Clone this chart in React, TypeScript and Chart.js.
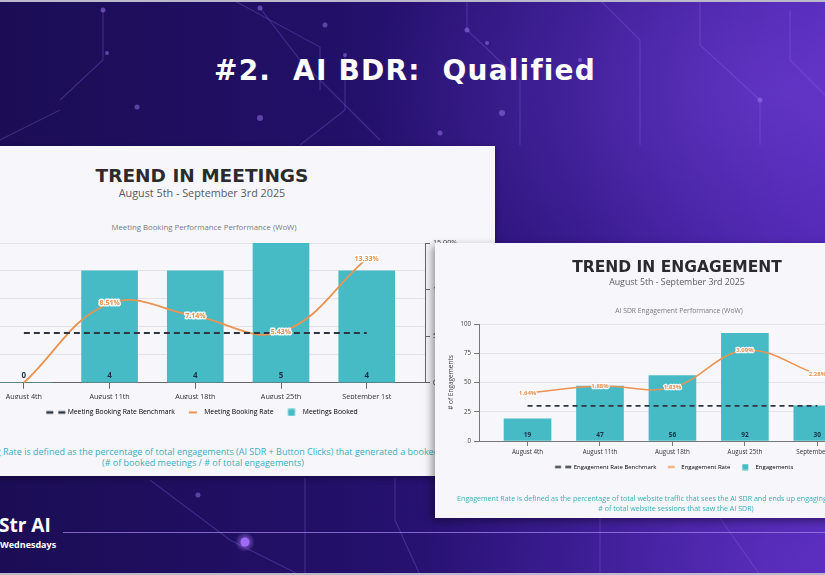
import React, { useEffect, useRef } from "react";
import { Chart, registerables } from "chart.js";

Chart.register(...registerables);

// ---------- data ----------
const weeks = ["August 4th", "August 11th", "August 18th", "August 25th", "September 1st"];

const meetingsBooked = [0, 4, 4, 5, 4];
const meetingRate = [0, 8.51, 7.14, 5.43, 13.33];
const meetingBenchmark = [5.35, 5.35, 5.35, 5.35, 5.35];
const meetingCountTicks = [0, 1, 2, 3, 4, 5];
const meetingRateTicks = [0, 5, 10, 15];

const engagements = [19, 47, 56, 92, 30];
const engagementRate = [1.64, 1.88, 1.83, 3.09, 2.28];
const engagementBenchmark = [1.2, 1.2, 1.2, 1.2, 1.2];
const engagementTicks = [0, 25, 50, 75, 100];

// ---------- styles ----------
const TEAL = "#46bbc6";
const ORANGE = "#eb9350";
const BENCH = "#2f3541";
const FONT = "'Open Sans', 'Liberation Sans', sans-serif";
const HEAD = "'DejaVu Sans', 'Open Sans', sans-serif";

const pts = (arr: number[]) => arr.map((v, i) => ({ x: i, y: v }));

function legendIcon(kind: "dash" | "line" | "box", color: string, scale = 1) {
  const c = document.createElement("canvas");
  c.width = Math.round(22 * scale);
  c.height = Math.round(8 * scale);
  const g = c.getContext("2d")!;
  g.fillStyle = color;
  const cy = c.height / 2;
  if (kind === "dash") {
    g.fillRect(1 * scale, cy - 1.3 * scale, 7 * scale, 2.6 * scale);
    g.fillRect(13 * scale, cy - 1.3 * scale, 7 * scale, 2.6 * scale);
  } else if (kind === "line") {
    g.fillRect(7 * scale, cy - 1 * scale, 8 * scale, 2 * scale);
  } else {
    g.fillRect(7.5 * scale, cy - 3.5 * scale, 7 * scale, 7 * scale);
  }
  return c;
}

const valueLabels = {
  id: "valueLabels",
  afterDatasetsDraw(chart: any) {
    const ctx = chart.ctx;
    chart.data.datasets.forEach((ds: any, i: number) => {
      const cfg = ds.valueLabel;
      if (!cfg) return;
      const meta = chart.getDatasetMeta(i);
      ctx.save();
      ctx.font = cfg.font;
      ctx.textAlign = "center";
      ctx.textBaseline = "middle";
      meta.data.forEach((el: any, j: number) => {
        const raw = ds.data[j];
        const v = typeof raw === "object" ? raw.y : raw;
        if (cfg.skipZero && v === 0) return;
        const text = cfg.format(v);
        const x = el.x;
        const y = cfg.atBase ? el.base - cfg.offset : el.y;
        if (cfg.halo) {
          ctx.lineJoin = "round";
          ctx.lineWidth = cfg.haloWidth;
          ctx.strokeStyle = cfg.halo;
          ctx.strokeText(text, x, y);
        }
        ctx.fillStyle = cfg.color;
        ctx.fillText(text, x, y);
      });
      ctx.restore();
    });
  },
};

const genLabels = (chart: any) =>
  chart.data.datasets.map((ds: any, i: number) => ({
    text: ds.label,
    pointStyle: ds.legendIcon,
    fillStyle: "transparent",
    strokeStyle: "transparent",
    lineWidth: 0,
    hidden: false,
    datasetIndex: i,
  }));

function meetingsChart(canvas: HTMLCanvasElement) {
  const f = (size: number, weight: any = "normal") => ({ family: FONT, size, weight });
  return new Chart(canvas, {
    type: "bar",
    data: {
      datasets: [
        {
          type: "line",
          label: "Meeting Booking Rate Benchmark",
          data: pts(meetingBenchmark),
          yAxisID: "y1",
          borderColor: BENCH,
          borderDash: [6, 4],
          borderWidth: 2,
          pointRadius: 0,
          order: 0,
          legendIcon: legendIcon("dash", BENCH),
        } as any,
        {
          type: "line",
          label: "Meeting Booking Rate",
          data: pts(meetingRate),
          yAxisID: "y1",
          borderColor: ORANGE,
          borderWidth: 1.8,
          tension: 0.4,
          pointRadius: 0,
          order: 1,
          legendIcon: legendIcon("line", ORANGE),
          valueLabel: {
            font: `bold 7px ${FONT}`,
            color: ORANGE,
            halo: "rgba(255,255,255,0.9)",
            haloWidth: 3,
            skipZero: true,
            format: (v: number) => v.toFixed(2) + "%",
          },
        },
        {
          type: "bar",
          label: "Meetings Booked",
          data: pts(meetingsBooked),
          yAxisID: "y",
          backgroundColor: TEAL,
          barThickness: 56,
          order: 2,
          legendIcon: legendIcon("box", TEAL),
          valueLabel: {
            font: `bold 8px ${FONT}`,
            color: "#1d3146",
            atBase: true,
            offset: 7,
            format: (v: number) => String(v),
          },
        },
      ],
    } as any,
    options: {
      responsive: false,
      animation: false,
      layout: { padding: { top: 10, left: 0, right: 0, bottom: 0 } },
      plugins: {
        legend: {
          position: "bottom",
          fullSize: false,
          maxHeight: 22,
          labels: {
            usePointStyle: true,
            pointStyleWidth: 16,
            boxHeight: 7,
            padding: 10,
            color: "#333",
            font: f(6.8),
            generateLabels: genLabels,
          },
        },
        tooltip: { enabled: false },
      },
      scales: {
        x: {
          type: "linear",
          offset: false,
          min: -0.5,
          max: 4.68,
          afterBuildTicks: (s: any) => {
            s.ticks = weeks.map((_, i) => ({ value: i }));
          },
          afterFit: (s: any) => {
            s.height = 16.25;
          },
          ticks: {
            callback: (v: any) => weeks[v] ?? "",
            color: "#333",
            font: f(7.2),
            padding: 4,
            maxRotation: 0,
            autoSkip: false,
          },
          grid: { offset: false, drawOnChartArea: false, drawTicks: true, tickLength: 6, color: "#666" },
          border: { color: "#666" },
        },
        y: {
          position: "left",
          min: 0,
          max: 5,
          afterBuildTicks: (s: any) => {
            s.ticks = meetingCountTicks.map((v) => ({ value: v }));
          },
          afterFit: (s: any) => {
            s.width = 0;
          },
          ticks: { display: false },
          grid: { color: "#e2e2ea", drawTicks: false },
          border: { display: false },
        },
        y1: {
          position: "right",
          min: 0,
          max: 15,
          afterBuildTicks: (s: any) => {
            s.ticks = meetingRateTicks.map((v) => ({ value: v }));
          },
          afterFit: (s: any) => {
            s.width = 60;
          },
          ticks: {
            callback: (v: any) => Number(v).toFixed(2) + "%",
            color: "#444",
            font: f(7.2),
            padding: 3,
          },
          grid: { drawOnChartArea: false, tickLength: 5, color: "#666" },
          border: { color: "#666" },
        },
      },
    } as any,
    plugins: [valueLabels],
  });
}

function engagementChart(canvas: HTMLCanvasElement) {
  const f = (size: number, weight: any = "normal") => ({ family: FONT, size, weight });
  return new Chart(canvas, {
    type: "bar",
    data: {
      datasets: [
        {
          type: "line",
          label: "Engagement Rate Benchmark",
          data: pts(engagementBenchmark),
          yAxisID: "y1",
          borderColor: BENCH,
          borderDash: [5, 4],
          borderWidth: 1.8,
          pointRadius: 0,
          order: 0,
          legendIcon: legendIcon("dash", BENCH, 0.85),
        } as any,
        {
          type: "line",
          label: "Engagement Rate",
          data: pts(engagementRate),
          yAxisID: "y1",
          borderColor: ORANGE,
          borderWidth: 1.5,
          tension: 0.4,
          pointRadius: 0,
          order: 1,
          legendIcon: legendIcon("line", ORANGE, 0.85),
          valueLabel: {
            font: `bold 6px ${FONT}`,
            color: ORANGE,
            halo: "rgba(255,255,255,0.9)",
            haloWidth: 2.5,
            format: (v: number) => v.toFixed(2) + "%",
          },
        },
        {
          type: "bar",
          label: "Engagements",
          data: pts(engagements),
          yAxisID: "y",
          backgroundColor: TEAL,
          barThickness: 47,
          order: 2,
          legendIcon: legendIcon("box", TEAL, 0.85),
          valueLabel: {
            font: `bold 6.5px ${FONT}`,
            color: "#1d3146",
            atBase: true,
            offset: 5,
            format: (v: number) => String(v),
          },
        },
      ],
    } as any,
    options: {
      responsive: false,
      animation: false,
      layout: { padding: { top: 8, left: 0, right: 0, bottom: 0 } },
      plugins: {
        legend: {
          position: "bottom",
          maxHeight: 18,
          labels: {
            usePointStyle: true,
            pointStyleWidth: 14,
            boxHeight: 6,
            padding: 8,
            color: "#333",
            font: f(6),
            generateLabels: genLabels,
          },
        },
        tooltip: { enabled: false },
      },
      scales: {
        x: {
          type: "linear",
          offset: false,
          min: -0.67,
          max: 5.21,
          afterBuildTicks: (s: any) => {
            s.ticks = weeks.map((_, i) => ({ value: i }));
          },
          afterFit: (s: any) => {
            s.height = 15;
          },
          ticks: {
            callback: (v: any) => weeks[v] ?? "",
            color: "#333",
            font: f(6.2),
            padding: 3,
            maxRotation: 0,
            autoSkip: false,
          },
          grid: { offset: false, drawOnChartArea: false, drawTicks: true, tickLength: 5, color: "#777" },
          border: { color: "#777" },
        },
        y: {
          position: "left",
          min: 0,
          max: 100,
          afterBuildTicks: (s: any) => {
            s.ticks = engagementTicks.map((v) => ({ value: v }));
          },
          afterFit: (s: any) => {
            s.width = 34;
          },
          title: {
            display: true,
            text: "# of Engagements",
            color: "#444",
            font: f(6.5),
            padding: { top: 2, bottom: 2 },
          },
          ticks: { color: "#444", font: f(6.2), padding: 3 },
          grid: { color: "#e4e4ea", tickLength: 5, tickColor: "#777" },
          border: { color: "#777" },
        },
        y1: {
          position: "right",
          display: false,
          min: 0,
          max: 4,
        },
      },
    } as any,
    plugins: [valueLabels],
  });
}

// ---------- helpers ----------
function T(props: {
  x: number;
  y: number;
  size: number;
  color: string;
  weight?: number | string;
  family?: string;
  ls?: number;
  children: React.ReactNode;
}) {
  return (
    <div
      style={{
        position: "absolute",
        left: props.x,
        top: props.y,
        transform: "translate(-50%, -50%)",
        whiteSpace: "pre",
        fontSize: props.size,
        lineHeight: 1,
        color: props.color,
        fontWeight: props.weight ?? 400,
        fontFamily: props.family ?? FONT,
        letterSpacing: props.ls ?? 0,
      }}
    >
      {props.children}
    </div>
  );
}

function Decor() {
  const line = "rgba(150,110,240,0.28)";
  const lines = [
    "M233 0 L320 47 L320 90",
    "M260 8 L300 60 L380 140",
    "M103 10 L103 60 L60 100",
    "M345 55 L345 110 L300 145",
    "M467 0 L467 30 L520 80 L520 145",
    "M600 0 L640 40 L640 145",
    "M700 0 L700 45 L760 100 L760 145",
    "M790 10 L790 60 L825 95",
    "M0 140 L60 110",
    "M150 480 L230 540 L300 575",
    "M305 478 L305 575",
    "M395 478 L395 520 L420 575",
    "M600 518 L600 575",
    "M720 518 L760 575",
  ];
  const dots: [number, number, number][] = [
    [103, 10, 2.5],
    [260, 8, 2.5],
    [325, 25, 2.5],
    [107, 53, 2],
    [345, 55, 2],
    [467, 30, 2.5],
    [487, 43, 2],
    [502, 113, 3],
    [260, 118, 3],
    [137, 107, 2.5],
    [440, 133, 2.5],
    [198, 495, 2.5],
    [580, 60, 2],
    [760, 100, 2.5],
  ];
  return (
    <svg width={825} height={575} style={{ position: "absolute", left: 0, top: 0 }}>
      <defs>
        <radialGradient id="glow" cx="0.5" cy="0.5" r="0.5">
          <stop offset="0%" stopColor="#b07bff" stopOpacity="1" />
          <stop offset="100%" stopColor="#b07bff" stopOpacity="0" />
        </radialGradient>
      </defs>
      {lines.map((d, i) => (
        <path key={i} d={d} stroke={line} strokeWidth={1.2} fill="none" />
      ))}
      {dots.map(([x, y, r], i) => (
        <circle key={i} cx={x} cy={y} r={r} fill="rgba(170,130,255,0.45)" />
      ))}
      <circle cx={245} cy={542} r={10} fill="url(#glow)" opacity={0.8} />
      <circle cx={245} cy={542} r={4.5} fill="#a06cf5" />
      <line x1={63} y1={532.5} x2={825} y2={532.5} stroke="rgba(160,130,235,0.75)" strokeWidth={1} />
    </svg>
  );
}

export default function App() {
  const ref1 = useRef<HTMLCanvasElement>(null);
  const ref2 = useRef<HTMLCanvasElement>(null);

  useEffect(() => {
    const c1 = meetingsChart(ref1.current!);
    const c2 = engagementChart(ref2.current!);
    return () => {
      c1.destroy();
      c2.destroy();
    };
  }, []);

  const CARD1 = { left: -20, top: 146 };
  const CARD2 = { left: 435, top: 243 };

  return (
    <div
      style={{
        position: "fixed",
        left: 0,
        top: 0,
        width: 825,
        height: 575,
        overflow: "hidden",
        background:
          "radial-gradient(ellipse 420px 260px at 790px 90px, rgba(120,70,220,0.55), rgba(120,70,220,0) 100%), radial-gradient(ellipse 380px 200px at 800px 560px, rgba(110,60,210,0.5), rgba(110,60,210,0) 100%), linear-gradient(90deg, #1b0d55 0%, #221067 40%, #2f1582 70%, #4a22ae 100%)",
      }}
    >
      <Decor />
      <div style={{ position: "absolute", left: 0, top: 0, width: 825, height: 2, background: "#bdb9cc" }} />
      <div style={{ position: "absolute", left: 0, top: 573, width: 825, height: 2, background: "#bdb9cc" }} />

      <T x={405} y={71} size={28} color="#ffffff" weight={700} family={HEAD} ls={1.2}>
        {"#2.  AI BDR:  Qualified"}
      </T>

      {/* card 1 */}
      <div
        style={{
          position: "absolute",
          left: CARD1.left,
          top: CARD1.top,
          width: 515,
          height: 330,
          background: "#f7f7fb",
          overflow: "hidden",
          boxShadow: "0 2px 6px rgba(0,0,0,0.35)",
        }}
      >
        <T x={202 - CARD1.left} y={176 - CARD1.top} size={18.5} color="#2b2b2e" weight={700} family={HEAD}>
          TREND IN MEETINGS
        </T>
        <T x={202 - CARD1.left} y={193 - CARD1.top} size={10.8} color="#5a5a60" weight={500}>
          August 5th - September 3rd 2025
        </T>
        <T x={204 - CARD1.left} y={227.5 - CARD1.top} size={7.8} color="#7a7a80">
          Meeting Booking Performance Performance (WoW)
        </T>
        <div style={{ position: "absolute", left: -19 - CARD1.left, top: 233 - CARD1.top }}>
          <canvas ref={ref1} width={504} height={188} />
        </div>
        <T x={203 - CARD1.left} y={451 - CARD1.top} size={9} color="#3aaebe">
          Meeting Booking Rate is defined as the percentage of total engagements (AI SDR + Button Clicks) that generated a booked meeting
        </T>
        <T x={203 - CARD1.left} y={462 - CARD1.top} size={9} color="#3aaebe">
          (# of booked meetings / # of total engagements)
        </T>
      </div>

      {/* card 2 */}
      <div
        style={{
          position: "absolute",
          left: CARD2.left,
          top: CARD2.top,
          width: 420,
          height: 275,
          background: "#f7f7fb",
          overflow: "hidden",
          boxShadow: "-3px 3px 8px rgba(0,0,0,0.4)",
        }}
      >
        <T x={677 - CARD2.left} y={268 - CARD2.top} size={15.5} color="#2b2b2e" weight={700} family={HEAD}>
          TREND IN ENGAGEMENT
        </T>
        <T x={677 - CARD2.left} y={282 - CARD2.top} size={8.8} color="#5a5a60" weight={500}>
          August 5th - September 3rd 2025
        </T>
        <T x={679 - CARD2.left} y={311 - CARD2.top} size={6.8} color="#7a7a80">
          AI SDR Engagement Performance (WoW)
        </T>
        <div style={{ position: "absolute", left: 445 - CARD2.left, top: 316 - CARD2.top }}>
          <canvas ref={ref2} width={460} height={158} />
        </div>
        <T x={676 - CARD2.left} y={499 - CARD2.top} size={7.1} color="#3aaebe">
          Engagement Rate is defined as the percentage of total website traffic that sees the AI SDR and ends up engaging (# of engagements /
        </T>
        <T x={676 - CARD2.left} y={509 - CARD2.top} size={7.1} color="#3aaebe">
          # of total website sessions that saw the AI SDR)
        </T>
      </div>

      {/* branding */}
      <div
        style={{
          position: "absolute",
          left: -1,
          top: 516,
          color: "#fff",
          fontFamily: FONT,
          fontWeight: 700,
          fontSize: 19,
          lineHeight: 1,
          whiteSpace: "pre",
        }}
      >
        Str AI
      </div>
      <div
        style={{
          position: "absolute",
          left: 0,
          top: 540,
          color: "#fff",
          fontFamily: FONT,
          fontWeight: 700,
          fontSize: 9,
          lineHeight: 1,
        }}
      >
        Wednesdays
      </div>
    </div>
  );
}
